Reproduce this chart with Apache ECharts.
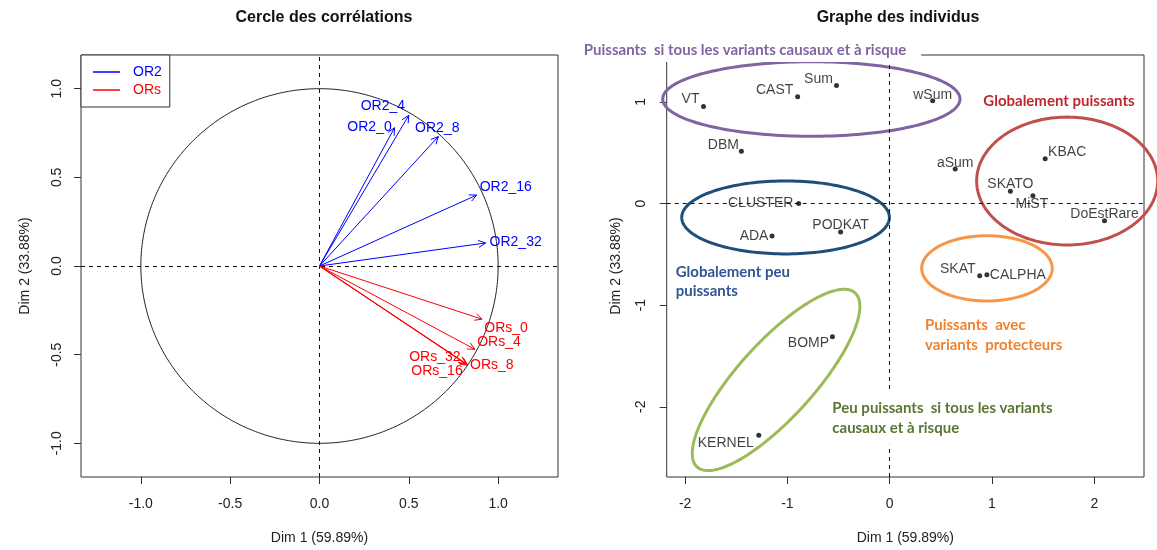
<!DOCTYPE html>
<html><head><meta charset="utf-8">
<script src="https://cdn.jsdelivr.net/npm/echarts@6/dist/echarts.min.js"></script>
<style>html,body{margin:0;padding:0;background:#fff}#c{width:1157px;height:550px}</style>
</head><body><div id="c"></div>
<script>
// ---------- DATA ----------
// Correlation circle: variables (Dim 1, Dim 2)
const or2Names = ['OR2_0', 'OR2_4', 'OR2_8', 'OR2_16', 'OR2_32'];
const or2Dim1  = [0.42, 0.50, 0.665, 0.88, 0.93];
const or2Dim2  = [0.78, 0.85, 0.73, 0.40, 0.13];
const orsNames = ['ORs_0', 'ORs_4', 'ORs_8', 'ORs_16', 'ORs_32'];
const orsDim1  = [0.91, 0.87, 0.83, 0.82, 0.825];
const orsDim2  = [-0.30, -0.47, -0.56, -0.55, -0.555];

// Individuals graph
const indNames = ['VT', 'CAST', 'Sum', 'wSum', 'DBM', 'aSum', 'KBAC', 'SKATO', 'MiST', 'DoEstRare',
                  'CLUSTER', 'PODKAT', 'ADA', 'SKAT', 'CALPHA', 'BOMP', 'KERNEL'];
const indDim1  = [-1.82, -0.90, -0.52, 0.42, -1.45, 0.64, 1.52, 1.18, 1.40, 2.10,
                  -0.89, -0.48, -1.15, 0.88, 0.95, -0.56, -1.28];
const indDim2  = [0.955, 1.05, 1.16, 1.01, 0.515, 0.34, 0.44, 0.12, 0.075, -0.17,
                  0.0, -0.28, -0.32, -0.71, -0.70, -1.31, -2.28];

// Tick labels
const leftTicks  = [-1.0, -0.5, 0.0, 0.5, 1.0];
const rightTicks = [-2, -1, 0, 1, 2];
const rightYTicks = [-2, -1, 0, 1];

// Texts
const titleLeft  = 'Cercle des corrélations';
const titleRight = 'Graphe des individus';
const dim1Name = 'Dim 1 (59.89%)';
const dim2Name = 'Dim 2 (33.88%)';
const noteTexts = [
  'Puissants  si tous les variants causaux et à risque',
  'Globalement puissants',
  'Globalement peu\npuissants',
  'Puissants  avec\nvariants  protecteurs',
  'Peu puissants  si tous les variants\ncausaux et à risque'
];

// ---------- LAYOUT / STYLE (annotations) ----------
const FONT = "'Liberation Sans', Arial, sans-serif";
const NOTE_FONT = "Lato, 'Open Sans', sans-serif";
const BLUE = '#0000ff', RED = '#ff0000';

// label offsets in pixels (label centre relative to mark)
const varLabelOff = {
  OR2_0: [-25, -1], OR2_4: [-26, -9], OR2_8: [-1, -8], OR2_16: [29, -8], OR2_32: [30, -1],
  ORs_0: [24, 9], ORs_4: [24, -7], ORs_8: [24, 0], ORs_16: [-29, 8], ORs_32: [-32, -7]
};
const indLabelOff = {
  VT: [-13, -7], CAST: [-23, -7], Sum: [-18, -6], wSum: [0, -6], DBM: [-18, -6], aSum: [0, -6],
  KBAC: [22, -7], SKATO: [0, -7], MiST: [-1, 8], DoEstRare: [0, -7], CLUSTER: [-38, 0],
  PODKAT: [0, -7], ADA: [-18, 0], SKAT: [-22, -7], CALPHA: [31, 1], BOMP: [-24, 7], KERNEL: [-33, 8]
};
// group ellipses (data units): cx, cy, semi-axis a, semi-axis b, rotation (deg), colour
const groupEllipses = [
  { c: [-0.766, 1.028], a: 1.453, b: 0.367, rot: 0,  color: '#8064A2' },
  { c: [-1.018, -0.137], a: 1.015, b: 0.359, rot: 0, color: '#1F4E79' },
  { c: [1.735, 0.221], a: 0.885, b: 0.629, rot: 0,   color: '#C0504D' },
  { c: [0.951, -0.638], a: 0.638, b: 0.321, rot: 0,  color: '#F79646' },
  { c: [-1.111, -1.736], a: 1.153, b: 0.371, rot: 48, color: '#9BBB59' }
];
// note anchors (top-left of first text line, data units) and colours
const noteLayout = [
  { at: [-2.990, 1.603], color: '#8064A2', pad: [2, 15, 2, 8] },
  { at: [0.915, 1.106], color: '#C0272D', pad: [2, 4, 2, 4] },
  { at: [-2.092, -0.577], color: '#2F5597', pad: [2, 4, 2, 4] },
  { at: [0.345, -1.105], color: '#F0822E', pad: [2, 4, 2, 4] },
  { at: [-0.561, -1.920], color: '#5A7631', pad: [7, 6, 7, 6] }
];

// ---------- CHART ----------
const chart = echarts.init(document.getElementById('c'));

function xAxisCfg(gi, min, max, ticks, fmt) {
  return {
    type: 'value', gridIndex: gi, min, max, position: 'bottom',
    axisLine: { show: false, onZero: false },
    axisTick: { show: true, inside: false, length: 7, lineStyle: { color: '#333' }, customValues: ticks },
    axisLabel: { customValues: ticks, formatter: fmt, margin: 20, fontSize: 14, color: '#222', fontFamily: FONT },
    splitLine: { show: false },
    name: dim1Name, nameLocation: 'middle', nameGap: 54,
    nameTextStyle: { fontSize: 14, color: '#222', fontFamily: FONT }
  };
}
function yAxisCfg(gi, min, max, ticks, fmt, lblMargin, nameGap) {
  return {
    type: 'value', gridIndex: gi, min, max, position: 'left',
    axisLine: { show: false, onZero: false },
    axisTick: { show: true, inside: false, length: 7, lineStyle: { color: '#333' }, customValues: ticks },
    axisLabel: { customValues: ticks, formatter: fmt, rotate: 90, margin: lblMargin, fontSize: 14, color: '#222', fontFamily: FONT },
    splitLine: { show: false },
    name: dim2Name, nameLocation: 'middle', nameGap: nameGap,
    nameTextStyle: { fontSize: 14, color: '#222', fontFamily: FONT }
  };
}

function arrowSeries(name, color, xs, ys, names) {
  return {
    type: 'custom', name, xAxisIndex: 0, yAxisIndex: 0, z: 5,
    itemStyle: { color },
    data: xs.map((x, i) => [x, ys[i], i]),
    encode: { x: 0, y: 1 },
    renderItem(params, api) {
      const o = api.coord([0, 0]);
      const p = api.coord([api.value(0), api.value(1)]);
      const i = api.value(2);
      const ang = Math.atan2(p[1] - o[1], p[0] - o[0]);
      const L = 8, A = Math.PI / 7;
      const h1 = [p[0] - L * Math.cos(ang - A), p[1] - L * Math.sin(ang - A)];
      const h2 = [p[0] - L * Math.cos(ang + A), p[1] - L * Math.sin(ang + A)];
      const off = varLabelOff[names[i]];
      return {
        type: 'group', children: [
          { type: 'line', shape: { x1: o[0], y1: o[1], x2: p[0], y2: p[1] }, style: { stroke: color, lineWidth: 1 } },
          { type: 'polyline', shape: { points: [h1, p, h2] }, style: { stroke: color, fill: null, lineWidth: 1 } },
          { type: 'text', x: p[0] + off[0], y: p[1] + off[1],
            style: { text: names[i], fill: color, font: '14px ' + FONT, align: 'center', verticalAlign: 'middle' } }
        ]
      };
    }
  };
}

const dashed = { type: [4, 4], color: '#111', width: 1 };

const option = {
  backgroundColor: '#fff',
  animation: false,
  title: [
    { text: titleLeft, left: 319, top: 5, textAlign: 'center',
      textStyle: { fontSize: 16, fontWeight: 'bold', color: '#111', fontFamily: FONT } },
    { text: titleRight, left: 893, top: 5, textAlign: 'center',
      textStyle: { fontSize: 16, fontWeight: 'bold', color: '#111', fontFamily: FONT } }
  ],
  legend: {
    orient: 'vertical', left: 81, top: 55, selectedMode: false,
    padding: [10, 8, 10, 12], itemGap: 4, itemWidth: 27, itemHeight: 1.5, icon: 'rect',
    borderColor: '#333', borderWidth: 1, backgroundColor: '#fff',
    textStyle: { fontSize: 14, fontFamily: FONT, padding: [0, 0, 0, 8] },
    data: [
      { name: 'OR2', textStyle: { color: BLUE } },
      { name: 'ORs', textStyle: { color: RED } }
    ]
  },
  grid: [
    { left: 81, top: 55, width: 477, height: 424, show: true, borderColor: '#333', borderWidth: 1, backgroundColor: 'transparent' },
    { left: 666.7, top: 55, width: 477.3, height: 424.3, show: true, borderColor: '#333', borderWidth: 1, backgroundColor: 'transparent' }
  ],
  xAxis: [
    xAxisCfg(0, -1.335, 1.335, leftTicks, v => Number(v).toFixed(1)),
    xAxisCfg(1, -2.18, 2.486, rightTicks, v => String(Math.round(v)))
  ],
  yAxis: [
    yAxisCfg(0, -1.19, 1.19, leftTicks, v => Number(v).toFixed(1), 17, 49),
    yAxisCfg(1, -2.691, 1.461, rightYTicks, v => String(Math.round(v)), 19, 44)
  ],
  series: [
    // unit circle + dashed axes (left)
    {
      type: 'custom', name: 'circle', xAxisIndex: 0, yAxisIndex: 0, z: 2, silent: true,
      data: [[0, 0]], encode: { x: 0, y: 1 },
      renderItem(params, api) {
        const pts = [];
        for (let k = 0; k <= 360; k++) {
          const t = k * Math.PI / 180;
          pts.push(api.coord([Math.cos(t), Math.sin(t)]));
        }
        return { type: 'polyline', shape: { points: pts }, style: { stroke: '#222', fill: null, lineWidth: 1 } };
      },
      markLine: { silent: true, symbol: ['none', 'none'], label: { show: false }, lineStyle: dashed,
        data: [{ xAxis: 0 }, { yAxis: 0 }] }
    },
    arrowSeries('OR2', BLUE, or2Dim1, or2Dim2, or2Names),
    arrowSeries('ORs', RED, orsDim1, orsDim2, orsNames),
    // ellipses (right)
    {
      type: 'custom', name: 'groups', xAxisIndex: 1, yAxisIndex: 1, z: 3, silent: true,
      data: groupEllipses.map((e, i) => [e.c[0], e.c[1], i]), encode: { x: 0, y: 1 },
      renderItem(params, api) {
        const e = groupEllipses[api.value(2)];
        const th = e.rot * Math.PI / 180;
        const pts = [];
        for (let k = 0; k <= 180; k++) {
          const t = k * 2 * Math.PI / 180;
          const dx = e.a * Math.cos(t), dy = e.b * Math.sin(t);
          pts.push(api.coord([e.c[0] + dx * Math.cos(th) - dy * Math.sin(th),
                              e.c[1] + dx * Math.sin(th) + dy * Math.cos(th)]));
        }
        return { type: 'polyline', shape: { points: pts }, style: { stroke: e.color, fill: null, lineWidth: 3 } };
      },
      markLine: { silent: true, symbol: ['none', 'none'], label: { show: false }, lineStyle: dashed,
        data: [{ xAxis: 0 }, { yAxis: 0 }] }
    },
    // individuals
    {
      type: 'scatter', name: 'individus', xAxisIndex: 1, yAxisIndex: 1, z: 6,
      symbol: 'circle', symbolSize: 5, itemStyle: { color: '#000' },
      label: { show: true, position: 'inside', formatter: p => p.name, color: '#111', fontSize: 14, fontFamily: FONT },
      data: indNames.map((n, i) => ({ name: n, value: [indDim1[i], indDim2[i]], label: { offset: indLabelOff[n] } }))
    },
    // group notes
    {
      type: 'custom', name: 'notes', xAxisIndex: 1, yAxisIndex: 1, z: 20, silent: true, clip: false,
      data: noteLayout.map((n, i) => [n.at[0], n.at[1], i]), encode: { x: 0, y: 1 },
      renderItem(params, api) {
        const i = api.value(2);
        const n = noteLayout[i];
        const p = api.coord([n.at[0], n.at[1]]);
        return {
          type: 'text', x: p[0] - n.pad[3], y: p[1] - n.pad[0],
          style: { text: noteTexts[i], fill: n.color, font: 'bold 15px ' + NOTE_FONT, lineHeight: 19.5,
            align: 'left', verticalAlign: 'top', backgroundColor: '#fff', padding: n.pad }
        };
      }
    }
  ]
};
chart.setOption(option);
</script></body></html>
